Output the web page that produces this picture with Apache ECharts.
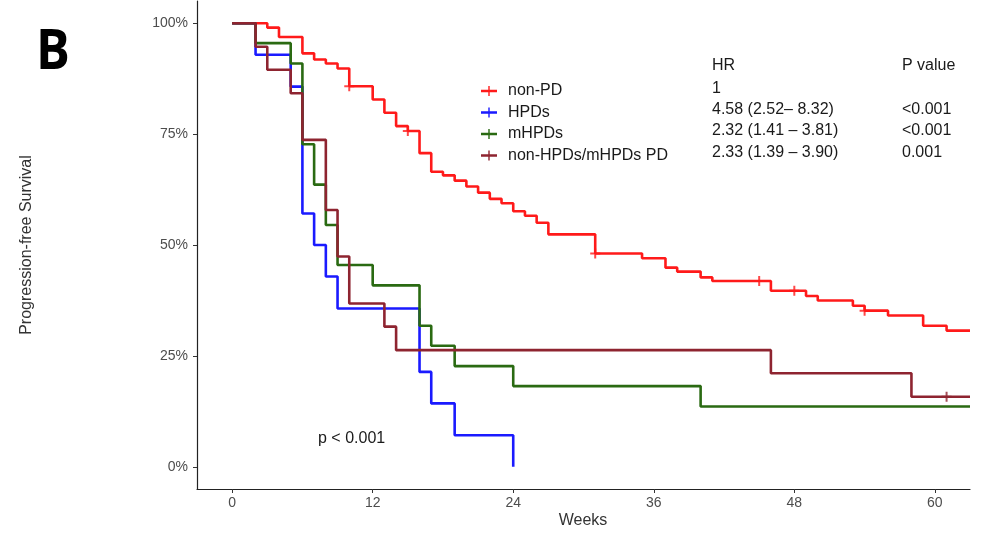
<!DOCTYPE html>
<html>
<head>
<meta charset="utf-8">
<script src="https://cdn.jsdelivr.net/npm/echarts@6/dist/echarts.min.js"></script>
<style>
html,body{margin:0;padding:0;background:#fff;}
#chart{width:982px;height:538px;}
</style>
</head>
<body>
<div id="chart"></div>
<script>
// ---- data (weeks, survival proportion) ----
const groupNames = ['non-PD', 'HPDs', 'mHPDs', 'non-HPDs/mHPDs PD'];
const groupColors = ['#ff1a1a', '#1a1aff', '#2a6a12', '#8e2430'];

const nonPD = [[0,1.0],[3,0.990],[4,0.969],[6,0.932],[7,0.918],[8,0.909],[9,0.898],[10,0.858],[12,0.828],[13,0.798],[14,0.768],[15,0.757],[16,0.707],[17,0.665],[18,0.657],[19,0.645],[20,0.632],[21,0.618],[22,0.604],[23,0.594],[24,0.576],[25,0.566],[26,0.550],[27,0.524],[31,0.481],[35,0.470],[37,0.449],[38,0.440],[40,0.427],[41,0.419],[46,0.397],[49,0.385],[50,0.375],[53,0.363],[54,0.352],[56,0.341],[59,0.318],[61,0.307],[63,0.307]];
const hpds = [[0,1.0],[2,0.929],[5,0.857],[6,0.571],[7,0.500],[8,0.429],[9,0.357],[16,0.214],[17,0.143],[19,0.071],[24,0.0]];
const mhpds = [[0,1.0],[2,0.955],[5,0.909],[6,0.727],[7,0.636],[8,0.545],[9,0.455],[12,0.409],[16,0.318],[17,0.273],[19,0.227],[24,0.182],[40,0.136],[63,0.136]];
const otherPD = [[0,1.0],[2,0.947],[3,0.895],[5,0.842],[6,0.737],[8,0.579],[9,0.474],[10,0.368],[13,0.316],[14,0.263],[46,0.211],[58,0.158],[63,0.158]];

const censorNonPD = [[10,0.858],[15,0.757],[31,0.481],[45,0.419],[48,0.397],[54,0.352]];
const censorOtherPD = [[61,0.158]];

const xTicks = [0, 12, 24, 36, 48, 60];
const yTicks = [0, 0.25, 0.5, 0.75, 1];

const hrHeader = ['HR', 'P value'];
const hrValues = ['1', '4.58 (2.52\u2013 8.32)', '2.32 (1.41 \u2013 3.81)', '2.33 (1.39 \u2013 3.90)'];
const pValues = ['', '<0.001', '<0.001', '0.001'];
const pText = 'p < 0.001';

// ---- chart ----
const FONT = '"Liberation Sans", Arial, sans-serif';
const plusPath = 'path://M4,0h2v10h-2z M0,4h10v2h-10z';
const legendIcon = 'path://M0,3.8h16v2.4h-16z M7.3,0h1.4v10h-1.4z';

const curves = [nonPD, hpds, mhpds, otherPD];
const series = [];
curves.forEach((d, i) => {
  series.push({
    name: groupNames[i], type: 'line', step: 'end', data: d,
    showSymbol: false, symbol: 'none',
    lineStyle: { color: groupColors[i], width: 2.6 },
    itemStyle: { color: groupColors[i] },
    emphasis: { disabled: true }, z: 2 + i
  });
});
[[censorNonPD, 0], [censorOtherPD, 3]].forEach(([d, i]) => {
  series.push({
    name: groupNames[i], type: 'scatter', data: d, symbol: plusPath, symbolSize: 10,
    itemStyle: { color: groupColors[i] }, z: 10
  });
});

const graphics = [
  { type: 'text', x: 53, y: 53, scaleX: 0.9,
    style: { text: 'B', font: 'bold 56px "Open Sans", "Liberation Sans", sans-serif', fill: '#000', align: 'center', verticalAlign: 'middle' } },
  { type: 'text', x: 27, y: 245, rotation: Math.PI / 2,
    style: { text: 'Progression-free Survival', font: '16px ' + FONT, fill: '#333', align: 'center', verticalAlign: 'middle' } },
  { type: 'text', x: 583, y: 521, style: { text: 'Weeks', font: '16px ' + FONT, fill: '#333', align: 'center', verticalAlign: 'middle' } },
  { type: 'text', x: 318, y: 439, style: { text: pText, font: '16px ' + FONT, fill: '#1a1a1a', align: 'left', verticalAlign: 'middle' } },
  { type: 'text', x: 712, y: 66, style: { text: hrHeader[0], font: '16px ' + FONT, fill: '#1a1a1a', verticalAlign: 'middle' } },
  { type: 'text', x: 902, y: 66, style: { text: hrHeader[1], font: '16px ' + FONT, fill: '#1a1a1a', verticalAlign: 'middle' } }
];
const rowY = [88.5, 109.5, 131, 152.5];
hrValues.forEach((t, i) => {
  graphics.push({ type: 'text', x: 712, y: rowY[i], style: { text: t, font: '16px ' + FONT, fill: '#1a1a1a', verticalAlign: 'middle' } });
  if (pValues[i]) graphics.push({ type: 'text', x: 902, y: rowY[i], style: { text: pValues[i], font: '16px ' + FONT, fill: '#1a1a1a', verticalAlign: 'middle' } });
});

const chart = echarts.init(document.getElementById('chart'), null, { renderer: 'canvas' });
chart.setOption({
  animation: false,
  backgroundColor: '#fff',
  grid: { left: 197, right: 12, top: 1, bottom: 49, containLabel: false },
  legend: {
    data: groupNames.map((n, i) => ({ name: n, icon: legendIcon, itemStyle: { color: groupColors[i] } })),
    orient: 'vertical', left: 476, top: 78, itemWidth: 16, itemHeight: 10, itemGap: 5.5,
    textStyle: { fontSize: 16, fontFamily: FONT, color: '#1a1a1a', padding: [0, 0, 0, 6] },
    selectedMode: false
  },
  xAxis: {
    type: 'value', min: -3, max: 63,
    axisLine: { show: true, onZero: false, lineStyle: { color: '#222', width: 1.2 } },
    axisTick: { show: true, length: 4, customValues: xTicks, lineStyle: { color: '#333' } },
    axisLabel: { customValues: xTicks, fontSize: 14, fontFamily: FONT, color: '#4d4d4d', margin: 7 },
    splitLine: { show: false }
  },
  yAxis: {
    type: 'value', min: -0.05, max: 1.05,
    axisLine: { show: true, onZero: false, lineStyle: { color: '#222', width: 1.2 } },
    axisTick: { show: true, length: 4, customValues: yTicks, lineStyle: { color: '#333' } },
    axisLabel: { customValues: yTicks, fontSize: 14, fontFamily: FONT, color: '#4d4d4d', margin: 9,
      formatter: v => Math.round(v * 100) + '%' },
    splitLine: { show: false }
  },
  graphic: graphics,
  series: series
});
</script>
</body>
</html>
